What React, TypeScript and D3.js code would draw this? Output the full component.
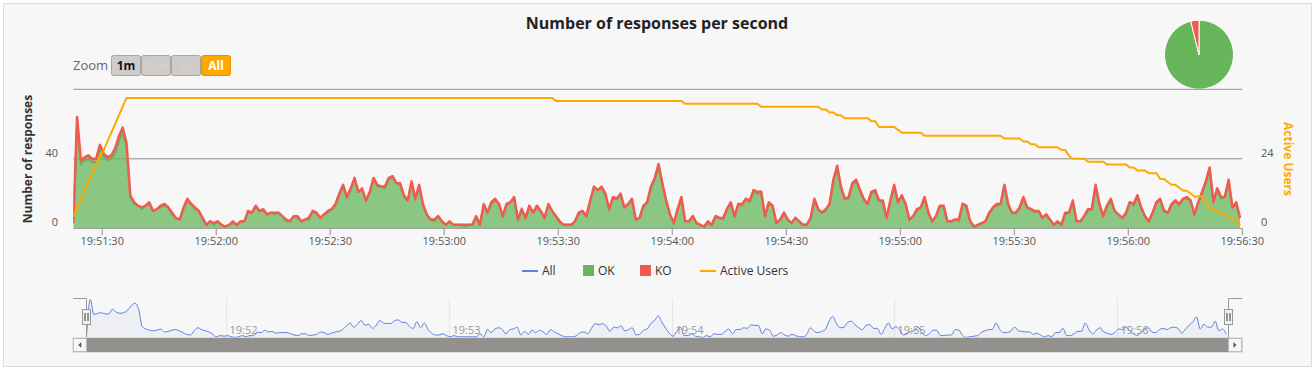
import * as React from 'react'
import * as d3 from 'd3'

// one value per second, starting 19:51:22.4
const startTime = new Date(2020, 0, 1, 19, 51, 22, 400)
const endTime = new Date(2020, 0, 1, 19, 56, 30)

const allValues = [
  3, 64, 39, 41, 42, 40, 40, 48, 43, 41,
  42, 46, 53, 58, 49, 19, 15, 13, 12, 13,
  15, 10, 11, 13, 14, 12, 9, 6, 5, 12,
  17, 14, 12, 10, 6, 2, 4, 3, 4, 2,
  1, 2, 4, 2, 4, 4, 10, 9, 13, 10,
  11, 8, 9, 9, 9, 7, 5, 4, 7, 7,
  4, 5, 6, 10, 9, 6, 8, 10, 11, 14,
  20, 25, 18, 23, 29, 21, 23, 16, 21, 29,
  25, 24, 24, 29, 30, 26, 26, 19, 16, 27,
  17, 25, 14, 8, 5, 5, 7, 4, 2, 4,
  2, 2, 2, 2, 2, 2, 7, 2, 14, 9,
  15, 17, 14, 7, 14, 15, 18, 5, 11, 6,
  13, 9, 13, 10, 6, 14, 10, 7, 4, 2,
  2, 2, 4, 9, 10, 7, 16, 24, 22, 24,
  20, 11, 18, 17, 20, 12, 14, 17, 5, 6,
  13, 15, 24, 29, 37, 26, 16, 8, 3, 11,
  18, 4, 4, 7, 3, 2, 1, 4, 2, 7,
  6, 6, 11, 15, 7, 14, 14, 17, 16, 22,
  21, 21, 7, 15, 13, 3, 5, 9, 5, 3,
  6, 4, 2, 2, 6, 17, 11, 9, 11, 14,
  28, 36, 24, 17, 18, 26, 28, 22, 17, 14,
  21, 22, 16, 16, 6, 16, 25, 15, 19, 14,
  5, 7, 11, 12, 18, 9, 4, 7, 13, 13,
  4, 4, 5, 5, 14, 13, 4, 1, 2, 3,
  4, 9, 12, 14, 14, 25, 14, 9, 9, 12,
  18, 12, 11, 10, 10, 6, 8, 5, 2, 4,
  2, 9, 9, 16, 4, 4, 7, 11, 11, 25,
  14, 7, 13, 17, 10, 8, 6, 9, 15, 14,
  19, 12, 7, 4, 9, 15, 17, 10, 9, 14,
  16, 14, 17, 18, 16, 8, 15, 21, 27, 35,
  15, 23, 18, 18, 28, 12, 15, 6,
]

const okValues = [
  3, 61, 37, 39, 40, 38, 38, 45, 41, 39,
  40, 43, 50, 55, 47, 18, 14, 13, 11, 13,
  14, 10, 11, 12, 13, 12, 8, 6, 5, 11,
  16, 14, 11, 10, 6, 2, 4, 2, 4, 2,
  1, 2, 3, 2, 4, 4, 9, 9, 12, 10,
  10, 8, 9, 8, 9, 7, 4, 4, 7, 6,
  4, 5, 5, 10, 8, 6, 8, 9, 11, 13,
  19, 24, 18, 22, 28, 21, 22, 16, 20, 28,
  24, 24, 23, 28, 29, 26, 25, 18, 16, 26,
  17, 24, 13, 8, 5, 4, 7, 4, 2, 4,
  2, 2, 2, 1, 2, 2, 6, 2, 13, 9,
  14, 16, 14, 7, 13, 15, 17, 5, 11, 6,
  12, 9, 12, 10, 6, 13, 10, 7, 3, 2,
  2, 2, 4, 8, 10, 7, 15, 23, 22, 23,
  19, 11, 17, 17, 19, 12, 14, 16, 5, 6,
  12, 15, 23, 28, 35, 25, 16, 8, 3, 10,
  17, 4, 4, 7, 3, 2, 1, 3, 2, 7,
  6, 5, 11, 14, 7, 14, 13, 17, 15, 21,
  20, 21, 7, 14, 13, 3, 5, 8, 5, 3,
  6, 4, 2, 2, 5, 16, 11, 9, 10, 14,
  27, 34, 23, 17, 17, 25, 27, 22, 16, 14,
  20, 21, 16, 15, 6, 16, 24, 15, 18, 14,
  5, 7, 10, 12, 17, 9, 4, 7, 12, 13,
  4, 4, 5, 4, 14, 12, 4, 1, 2, 3,
  4, 8, 12, 13, 14, 24, 13, 9, 9, 11,
  17, 12, 11, 9, 10, 6, 8, 5, 2, 4,
  2, 8, 9, 15, 4, 4, 7, 10, 11, 24,
  13, 7, 13, 16, 10, 8, 6, 8, 15, 13,
  18, 12, 7, 4, 9, 14, 16, 10, 9, 13,
  16, 13, 17, 17, 16, 8, 14, 20, 26, 33,
  15, 22, 17, 18, 27, 12, 14, 6,
]

const koValues = [
  0, 3, 2, 2, 2, 2, 2, 3, 2, 2,
  2, 3, 3, 3, 2, 1, 1, 0, 1, 0,
  1, 0, 0, 1, 1, 0, 1, 0, 0, 1,
  1, 0, 1, 0, 0, 0, 0, 1, 0, 0,
  0, 0, 1, 0, 0, 0, 1, 0, 1, 0,
  1, 0, 0, 1, 0, 0, 1, 0, 0, 1,
  0, 0, 1, 0, 1, 0, 0, 1, 0, 1,
  1, 1, 0, 1, 1, 0, 1, 0, 1, 1,
  1, 0, 1, 1, 1, 0, 1, 1, 0, 1,
  0, 1, 1, 0, 0, 1, 0, 0, 0, 0,
  0, 0, 0, 1, 0, 0, 1, 0, 1, 0,
  1, 1, 0, 0, 1, 0, 1, 0, 0, 0,
  1, 0, 1, 0, 0, 1, 0, 0, 1, 0,
  0, 0, 0, 1, 0, 0, 1, 1, 0, 1,
  1, 0, 1, 0, 1, 0, 0, 1, 0, 0,
  1, 0, 1, 1, 2, 1, 0, 0, 0, 1,
  1, 0, 0, 0, 0, 0, 0, 1, 0, 0,
  0, 1, 0, 1, 0, 0, 1, 0, 1, 1,
  1, 0, 0, 1, 0, 0, 0, 1, 0, 0,
  0, 0, 0, 0, 1, 1, 0, 0, 1, 0,
  1, 2, 1, 0, 1, 1, 1, 0, 1, 0,
  1, 1, 0, 1, 0, 0, 1, 0, 1, 0,
  0, 0, 1, 0, 1, 0, 0, 0, 1, 0,
  0, 0, 0, 1, 0, 1, 0, 0, 0, 0,
  0, 1, 0, 1, 0, 1, 1, 0, 0, 1,
  1, 0, 0, 1, 0, 0, 0, 0, 0, 0,
  0, 1, 0, 1, 0, 0, 0, 1, 0, 1,
  1, 0, 0, 1, 0, 0, 0, 1, 0, 1,
  1, 0, 0, 0, 0, 1, 1, 0, 0, 1,
  0, 1, 0, 1, 0, 0, 1, 1, 1, 2,
  0, 1, 1, 0, 1, 0, 1, 0,
]

const activeUsers = [
  4, 7, 10, 13, 16, 19, 22, 25, 27, 30,
  33, 36, 39, 42, 45, 45, 45, 45, 45, 45,
  45, 45, 45, 45, 45, 45, 45, 45, 45, 45,
  45, 45, 45, 45, 45, 45, 45, 45, 45, 45,
  45, 45, 45, 45, 45, 45, 45, 45, 45, 45,
  45, 45, 45, 45, 45, 45, 45, 45, 45, 45,
  45, 45, 45, 45, 45, 45, 45, 45, 45, 45,
  45, 45, 45, 45, 45, 45, 45, 45, 45, 45,
  45, 45, 45, 45, 45, 45, 45, 45, 45, 45,
  45, 45, 45, 45, 45, 45, 45, 45, 45, 45,
  45, 45, 45, 45, 45, 45, 45, 45, 45, 45,
  45, 45, 45, 45, 45, 45, 45, 45, 45, 45,
  45, 45, 45, 45, 45, 45, 45, 44, 44, 44,
  44, 44, 44, 44, 44, 44, 44, 44, 44, 44,
  44, 44, 44, 44, 44, 44, 44, 44, 44, 44,
  44, 44, 44, 44, 44, 44, 44, 44, 44, 44,
  44, 43, 43, 43, 43, 43, 43, 43, 43, 43,
  43, 43, 43, 43, 43, 43, 43, 43, 43, 43,
  43, 42, 42, 42, 42, 42, 42, 42, 42, 42,
  42, 42, 42, 42, 42, 42, 42, 41, 41, 40,
  40, 39, 39, 38, 38, 38, 38, 38, 38, 38,
  37, 37, 35, 35, 35, 35, 35, 34, 33, 33,
  33, 33, 33, 33, 32, 32, 32, 32, 32, 32,
  32, 32, 32, 32, 32, 32, 32, 32, 32, 32,
  32, 32, 32, 32, 32, 31, 31, 31, 31, 31,
  30, 30, 29, 29, 28, 28, 28, 28, 28, 28,
  27, 27, 25, 24, 24, 24, 24, 23, 23, 23,
  23, 23, 22, 22, 22, 22, 22, 22, 21, 21,
  20, 20, 20, 19, 19, 19, 17, 17, 16, 15,
  15, 14, 13, 13, 12, 11, 11, 11, 9, 7,
  7, 6, 5, 5, 4, 3, 3, 1,
]

const xTickLabels = ['19:51:30', '19:52:00', '19:52:30', '19:53:00', '19:53:30', '19:54:00', '19:54:30', '19:55:00', '19:55:30', '19:56:00', '19:56:30']
const navTickLabels = ['19:52', '19:53', '19:54', '19:55', '19:56']
const leftTicks = [0, 40, 80]
const rightTicks = [0, 24, 48]
const zoomButtons = ['1m', '10m', '1h', 'All']

const colors = { all: '#5f7fe0', ok: '#68b65c', ko: '#f15b4f', users: '#ffa900' }
const legendItems = [
  { name: 'All', color: colors.all, kind: 'line', x: 522 },
  { name: 'OK', color: colors.ok, kind: 'box', x: 583 },
  { name: 'KO', color: colors.ko, kind: 'box', x: 640 },
  { name: 'Active Users', color: colors.users, kind: 'line', x: 700 },
]

const toDate = (label: string) => {
  const [h, m, s] = label.split(':').map(Number)
  return new Date(2020, 0, 1, h, m, s || 0)
}

const W = 1315
const H = 370
const plot = { left: 73.3, right: 1242.3, top: 89.3, bottom: 228.3 }
const nav = { left: 86.5, right: 1228.5, top: 298.5, bottom: 338 }
const font = "'Open Sans', 'DejaVu Sans', sans-serif"

export default function App() {
  const times = allValues.map((_, i) => new Date(+startTime + i * 1000))
  const rows = times.map((t, i) => ({ t, ok: okValues[i], ko: koValues[i] }))

  const x = d3.scaleTime().domain([startTime, endTime]).range([plot.left, plot.right])
  const yL = d3.scaleLinear().domain([0, 80]).range([plot.bottom, plot.top])
  const yR = d3.scaleLinear().domain([0, 48]).range([plot.bottom, plot.top])

  const stack = d3.stack<any>().keys(['ok', 'ko'])(rows)
  const area = d3.area<any>()
    .x((d) => x(d.data.t))
    .y0((d) => yL(d[0]))
    .y1((d) => yL(d[1]))
  const topLine = d3.line<any>()
    .x((d) => x(d.data.t))
    .y((d) => yL(d[1]))
  const usersLine = d3.line<number>()
    .x((_, i) => x(times[i]))
    .y((d) => yR(d))

  const xn = d3.scaleTime().domain([startTime, endTime]).range([nav.left, nav.right])
  const yn = d3.scaleLinear().domain([0, d3.max(allValues) as number]).range([nav.bottom, nav.top + 1])
  const navArea = d3.area<number>()
    .x((_, i) => xn(times[i]))
    .y0(nav.bottom)
    .y1((d) => yn(d))
    .curve(d3.curveMonotoneX)
  const navLine = navArea.lineY1()

  const pieData = d3.pie<number>().sort(null)([d3.sum(okValues), d3.sum(koValues)])
  const arc = d3.arc<d3.PieArcDatum<number>>().innerRadius(0).outerRadius(34.5)

  return (
    <div style={{ position: 'absolute', left: 0, top: 0 }}>
      <svg width={W} height={H} style={{ display: 'block' }} fontFamily={font}>
        <rect x={0} y={0} width={W} height={H} fill="#fff" />
        <rect x={3.5} y={3.5} width={1308} height={363} fill="#f7f7f7" stroke="#dcdcdc" />

        <text x={657} y={29} textAnchor="middle" fontSize={16} fontWeight="bold" fill="#222">
          Number of responses per second
        </text>

        {/* range selector */}
        <text x={73} y={70} fontSize={13} fill="#666">Zoom</text>
        {zoomButtons.map((b, i) => {
          const bx = 111.5 + i * 30
          const active = b === 'All'
          const enabled = b === '1m' || active
          return (
            <g key={b}>
              <rect x={bx} y={55.5} width={29} height={20} rx={2}
                fill={active ? colors.users : '#cfcbc8'} stroke={active ? '#e09600' : '#a9a6a4'} />
              <text x={bx + 14.5} y={70} textAnchor="middle" fontSize={12} fontWeight="bold"
                fill={active ? '#fff' : enabled ? '#111' : '#d3d0ce'}>{b}</text>
            </g>
          )
        })}

        {/* pie */}
        <g transform="translate(1199,54.7)">
          {pieData.map((p, i) => (
            <path key={i} d={arc(p) as string} fill={i === 0 ? colors.ok : colors.ko} stroke="#fff" strokeWidth={1} />
          ))}
        </g>

        {/* grid */}
        {leftTicks.slice(1).map((v) => (
          <line key={v} x1={plot.left} x2={plot.right} y1={yL(v)} y2={yL(v)} stroke="#8f8f8f" />
        ))}
        <line x1={plot.left} x2={plot.right} y1={plot.bottom} y2={plot.bottom} stroke="#8f8f8f" />
        {xTickLabels.map((l) => {
          const tx = x(toDate(l))
          return (
            <g key={l}>
              <line x1={tx} x2={tx} y1={plot.bottom} y2={plot.bottom + 7} stroke="#8f8f8f" />
              <text x={tx} y={245} textAnchor="middle" fontSize={11} fill="#555">{l}</text>
            </g>
          )
        })}
        {leftTicks.slice(0, -1).map((v) => (
          <text key={v} x={58} y={yL(v) - 2} textAnchor="end" fontSize={11} fill="#555">{v}</text>
        ))}
        {rightTicks.slice(0, -1).map((v) => (
          <text key={v} x={1261} y={yR(v) - 2} fontSize={11} fill="#555">{v}</text>
        ))}
        <text transform="translate(32,159) rotate(-90)" textAnchor="middle" fontSize={12} fontWeight="bold" fill="#333">
          Number of responses
        </text>
        <text transform="translate(1284,159) rotate(90)" textAnchor="middle" fontSize={12} fontWeight="bold" fill={colors.users}>
          Active Users
        </text>

        {/* series */}
        <defs>
          <clipPath id="plotClip">
            <rect x={plot.left} y={plot.top - 5} width={plot.right - plot.left} height={plot.bottom - plot.top + 5} />
          </clipPath>
        </defs>
        <g clipPath="url(#plotClip)">
          <path d={area(stack[0]) as string} fill={colors.ok} fillOpacity={0.75} />
          <path d={area(stack[1]) as string} fill={colors.ko} fillOpacity={0.75} />
          <path d={topLine(stack[0]) as string} fill="none" stroke={colors.ok} strokeWidth={2} />
          <path d={topLine(stack[1]) as string} fill="none" stroke={colors.ko} strokeWidth={2.5} strokeLinejoin="round" />
          <path d={usersLine(activeUsers) as string} fill="none" stroke={colors.users} strokeWidth={2} />
        </g>

        {/* legend */}
        {legendItems.map((it) => (
          <g key={it.name}>
            {it.kind === 'line'
              ? <line x1={it.x} x2={it.x + 16} y1={271} y2={271} stroke={it.color} strokeWidth={2} />
              : <rect x={it.x} y={265} width={11} height={11} fill={it.color} />}
            <text x={it.x + (it.kind === 'line' ? 20 : 15)} y={275} fontSize={12} fill="#333">{it.name}</text>
          </g>
        ))}

        {/* navigator */}
        {navTickLabels.map((l) => {
          const gx = Math.round(xn(toDate(l))) + 0.5
          return (
            <g key={l}>
              <line x1={gx} x2={gx} y1={nav.top} y2={nav.bottom} stroke="#e6e6e6" />
              <text x={gx + 3} y={334} fontSize={11} fill="#999">{l}</text>
            </g>
          )
        })}
        <path d={navArea(allValues) as string} fill={colors.all} fillOpacity={0.06} />
        <path d={navLine(allValues) as string} fill="none" stroke={colors.all} strokeWidth={1} />
        <path d={`M${plot.left},${nav.top}H${nav.left}V${nav.bottom}M${nav.right},${nav.bottom}V${nav.top}H${plot.right}`}
          fill="none" stroke="#999" />
        {[nav.left, nav.right].map((hx) => (
          <g key={hx}>
            <rect x={hx - 4} y={309.5} width={8} height={15} fill="#f2f2f2" stroke="#999" />
            <line x1={hx - 1.5} x2={hx - 1.5} y1={313} y2={321} stroke="#333" />
            <line x1={hx + 1.5} x2={hx + 1.5} y1={313} y2={321} stroke="#333" />
          </g>
        ))}

        {/* scrollbar */}
        <rect x={plot.left} y={338} width={plot.right - plot.left} height={14} fill="#f2f2f2" stroke="#ccc" />
        <rect x={nav.left} y={338} width={nav.right - nav.left} height={14} fill="#93918e" />
        <rect x={plot.left} y={338.5} width={13} height={13} fill="#f7f7f7" stroke="#bbb" />
        <path d={`M${plot.left + 8},342 L${plot.left + 5},345 L${plot.left + 8},348 Z`} fill="#555" />
        <rect x={nav.right} y={338.5} width={13} height={13} fill="#f7f7f7" stroke="#bbb" />
        <path d={`M${nav.right + 5},342 L${nav.right + 8},345 L${nav.right + 5},348 Z`} fill="#555" />
      </svg>
    </div>
  )
}
